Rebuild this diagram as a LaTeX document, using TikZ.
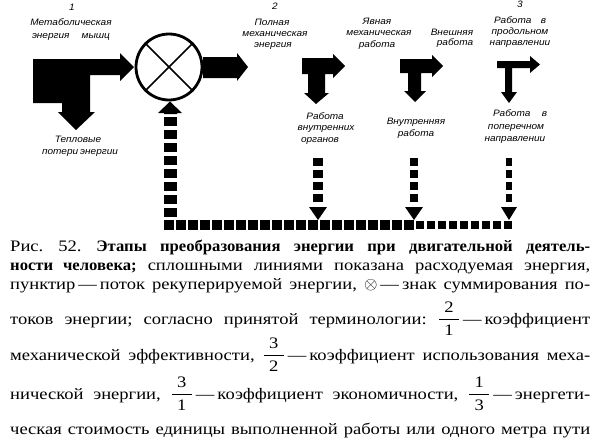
\documentclass[tikz,border=0pt]{standalone}
\usepackage{amsmath}
\usepackage{fontspec}
\setmainfont{Liberation Serif}[FakeStretch=1.16, BoldFeatures={FakeStretch=1.04}]
\newfontfamily\labfont{Liberation Sans}[FakeStretch=1.08]
\newcommand\myfr[2]{\ensuremath{\dfrac{\mbox{\,\,#1\,\,}}{\mbox{\,\,#2\,\,}}}}
\newcommand\dsh{\kern3pt—\kern3pt}
\frenchspacing
\begin{document}
\begin{tikzpicture}[x=1pt,y=-1pt,
  lab/.style={font=\labfont\itshape\fontsize{9.3}{10}\selectfont, inner sep=0pt, text height=6.5pt, text depth=2pt},
  capline/.style={anchor=base west, inner sep=0pt, font=\fontsize{16}{19}\selectfont},
  blk/.style={fill=black}]
\useasboundingbox (0,0) rectangle (600,442);
\fill[white] (0,0) rectangle (600,442);

% left L-shaped arrow (metabolic energy + heat losses)
\fill[blk] (33,59) -- (120,59) -- (120,53) -- (134,67) -- (120,81) -- (120,75) -- (90,75)
  -- (90,112) -- (95,112) -- (76,130) -- (58,112) -- (62,112) -- (62,103) -- (33,103) -- cycle;

% summation circle
\node[circle, draw, line width=2.8pt, minimum size=66pt, inner sep=0pt] (sum) at (169,67) {};
\draw[line width=1.7pt] (sum.north east) -- (sum.south west);
\draw[line width=1.7pt] (sum.north west) -- (sum.south east);

% arrow out of circle
\fill[blk] (203,57) -- (237,57) -- (237,53) -- (248,67) -- (237,81) -- (237,78) -- (203,78) -- cycle;

% T arrows
\fill[blk] (302,58) -- (333,58) -- (333,54) -- (345,66) -- (333,78) -- (333,74) -- (325,74)
  -- (325,93) -- (329,93) -- (316,104) -- (304,93) -- (308,93) -- (308,74) -- (302,74) -- cycle;
\fill[blk] (400,59) -- (432,59) -- (432,55) -- (443,66) -- (432,77) -- (432,73) -- (421,73)
  -- (421,91) -- (426,91) -- (415,102) -- (404,91) -- (408,91) -- (408,73) -- (400,73) -- cycle;
\fill[blk] (497,61) -- (530,61) -- (530,56) -- (540,64.5) -- (530,73) -- (530,68) -- (512,68)
  -- (512,92) -- (517,92) -- (509,103) -- (501,92) -- (505,92) -- (505,68) -- (497,68) -- cycle;

% recuperated energy: dashed up arrow into circle
\fill[blk] (158,113) -- (170,101.5) -- (182,113) -- (177,113) -- (177,114) -- (164,114) -- (164,113) -- cycle;
\foreach \yy in {117,130,143,156,169,182,195,208} \fill[blk] (164,\yy) rectangle (177,\yy+9);
% bottom dashed row
\foreach \xx in {164,176,...,404} \fill[blk] (\xx,220) rectangle (\xx+9.5,230);
\foreach \xx in {416,427,...,505} \fill[blk] (\xx,221) rectangle (\xx+8,229);
% dashed down arrows
\foreach \yy in {158,170,182,194} {
  \fill[blk] (313,\yy) rectangle (323,\yy+8);
  \fill[blk] (410,\yy) rectangle (418,\yy+8);
  \fill[blk] (506,\yy) rectangle (512,\yy+8);
}
\fill[blk] (309,207) -- (327,207) -- (318,220) -- cycle;
\fill[blk] (405,207) -- (423,207) -- (414,220) -- cycle;
\fill[blk] (501,207) -- (517,207) -- (509,220) -- cycle;

% labels
\node[lab] (n1) at (72,8) {1};
\node[lab] (m1) at (71,23) {Метаболическая};
\node[lab] (m2) at (71,36) {\makebox[78pt][s]{энергия мышц}};
\node[lab] (h1) at (78,140) {Тепловые};
\node[lab] (h2) at (80,152) {\makebox[76pt][s]{потери энергии}};
\node[lab] (n2) at (275,7) {2};
\node[lab] (p1) at (272,23) {Полная};
\node[lab] (p2) at (275,34) {механическая};
\node[lab] (p3) at (273,45) {энергия};
\node[lab] (y1) at (377,22) {Явная};
\node[lab] (y2) at (379,33) {механическая};
\node[lab] (y3) at (377,45) {работа};
\node[lab] (e1) at (452,33) {Внешняя};
\node[lab] (e2) at (455,43) {работа};
\node[lab] (n3) at (520,5) {3};
\node[lab] (l1) at (520,21) {\makebox[52pt][s]{Работа в}};
\node[lab] (l2) at (520,32) {продольном};
\node[lab] (l3) at (520,43) {направлении};
\node[lab] (o1) at (325,117) {Работа};
\node[lab] (o2) at (326,128) {внутренних};
\node[lab] (o3) at (320,140) {органов};
\node[lab] (i1) at (416,122) {Внутренняя};
\node[lab] (i2) at (416,134) {работа};
\node[lab] (t1) at (520,114) {\makebox[54pt][s]{Работа в}};
\node[lab] (t2) at (516,127) {поперечном};
\node[lab] (t3) at (515,139) {направлении};

% caption
\node[capline] (c1) at (10,251) {\makebox[580pt][s]{Рис. 52. \textbf{Этапы преобразования энергии при двигательной деятель-}}};
\node[capline] (c2) at (10,270) {\makebox[580pt][s]{\textbf{ности человека;} сплошными линиями показана расходуемая энергия,}};
\node[capline] (c3) at (10,289) {\makebox[580pt][s]{пунктир\dsh поток рекуперируемой энергии, $\otimes$\dsh знак суммирования по-}};
\node[capline] (c4) at (10,324) {\makebox[580pt][s]{токов энергии; согласно принятой терминологии: \myfr{2}{1}\dsh коэффициент}};
\node[capline] (c5) at (10,360) {\makebox[580pt][s]{механической эффективности, \myfr{3}{2}\dsh коэффициент использования меха-}};
\node[capline] (c6) at (10,399) {\makebox[580pt][s]{нической энергии, \myfr{3}{1}\dsh коэффициент экономичности, \myfr{1}{3}\dsh энергети-}};
\node[capline] (c7) at (10,434) {\makebox[580pt][s]{ческая стоимость единицы выполненной работы или одного метра пути}};
\end{tikzpicture}
\end{document}
